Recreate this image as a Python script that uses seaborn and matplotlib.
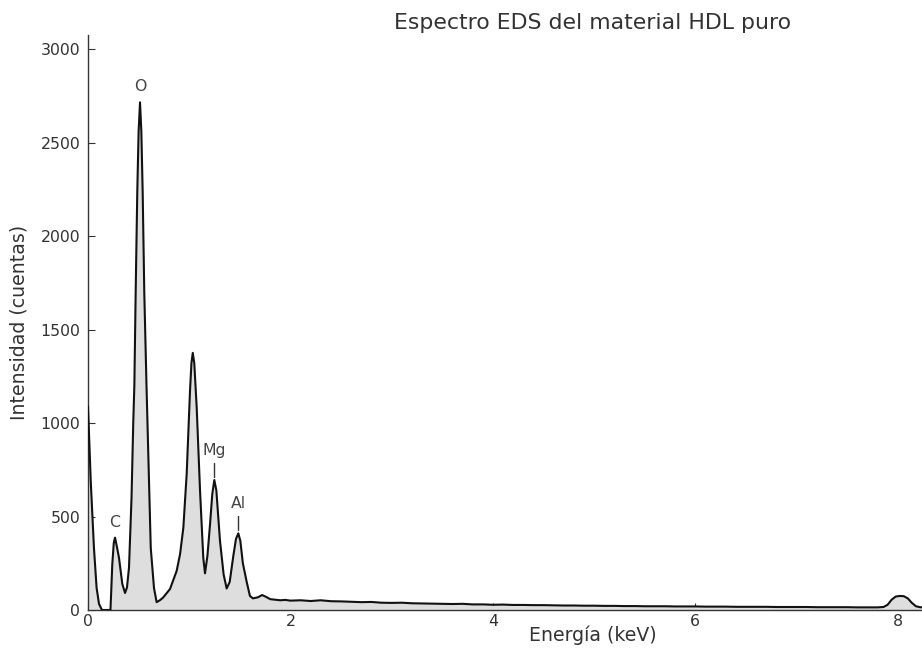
import numpy as np
import pandas as pd
import matplotlib
matplotlib.use("Agg")
import matplotlib.pyplot as plt
import seaborn as sns

# ---- data ----
energy_kev = [
    0.000, 0.027, 0.059, 0.085, 0.109, 0.138, 0.180, 0.222,
    0.240, 0.255, 0.267, 0.285, 0.306, 0.339, 0.366, 0.385, 0.405, 0.430, 0.447,
    0.458, 0.471, 0.487, 0.500, 0.514, 0.527, 0.540, 0.556, 0.578, 0.603, 0.620,
    0.652, 0.678, 0.710, 0.741, 0.810, 0.876, 0.910, 0.942, 0.975, 1.008, 1.022,
    1.035, 1.050, 1.074, 1.107, 1.139, 1.156, 1.180, 1.206, 1.228, 1.248, 1.268,
    1.304, 1.340, 1.370, 1.400, 1.436, 1.462, 1.485, 1.505, 1.530, 1.568, 1.600,
    1.630, 1.680, 1.720, 1.760, 1.800, 1.850, 1.900, 1.950, 2.000, 2.100, 2.200,
    2.300, 2.400, 2.500, 2.600, 2.700, 2.800, 2.900, 3.000, 3.100, 3.200, 3.300,
    3.400, 3.500, 3.600, 3.700, 3.800, 3.900, 4.000, 4.100, 4.200, 4.300, 4.400,
    4.500, 4.600, 4.700, 4.800, 4.900, 5.000, 5.100, 5.200, 5.300, 5.400, 5.500,
    5.600, 5.700, 5.800, 5.900, 6.000, 6.100, 6.200, 6.300, 6.400, 6.500, 6.600,
    6.700, 6.800, 6.900, 7.000, 7.100, 7.200, 7.300, 7.400, 7.500, 7.600, 7.700,
    7.800, 7.860, 7.900, 7.940, 7.980, 8.020, 8.060, 8.100, 8.140, 8.180, 8.220,
    8.260,
]
intensity = [
    1090, 690, 330, 118, 32, 0, 0, 0,
    245, 360, 387, 340, 280, 139, 91, 120, 226, 600, 1000,
    1200, 1700, 2240, 2560, 2715, 2560, 2240, 1700, 1200, 690, 332,
    118, 42, 52, 66, 112, 209, 300, 440, 728, 1173, 1320,
    1375, 1320, 1082, 637, 279, 196, 290, 460, 620, 695, 640,
    370, 190, 115, 150, 290, 380, 410, 370, 250, 150, 75,
    62, 68, 80, 70, 58, 55, 52, 54, 50, 52, 48,
    52, 47, 46, 44, 42, 43, 39, 38, 39, 36, 35,
    34, 33, 32, 33, 30, 30, 28, 29, 27, 27, 26,
    26, 25, 24, 24, 23, 23, 22, 22, 21, 21, 20,
    20, 20, 19, 19, 19, 18, 18, 18, 17, 17, 17,
    17, 16, 16, 16, 16, 15, 15, 15, 15, 14, 14,
    14, 16, 28, 55, 72, 75, 74, 62, 38, 20, 15,
    14,
]
peak_labels = ["C", "O", "Mg", "Al"]
peak_energy = [0.267, 0.514, 1.248, 1.485]
peak_marker_line = [False, False, True, True]

x_ticks = [0, 2, 4, 6, 8]
y_ticks = [0, 500, 1000, 1500, 2000, 2500, 3000]

title = "Espectro EDS del material HDL puro"
x_label = "Energía (keV)"
y_label = "Intensidad (cuentas)"

df = pd.DataFrame({"energy": energy_kev, "counts": intensity})

# ---- figure ----
sns.set_style("ticks")
plt.rcParams["font.family"] = ["DejaVu Sans"]

fig = plt.figure(figsize=(9.22, 6.57), dpi=100)
ax = fig.add_axes([88 / 922, 47 / 657, 1 - 88 / 922, (610 - 35) / 657])

ax.fill_between(df["energy"], 0, df["counts"], color="#dedede", linewidth=0, zorder=1)
sns.lineplot(data=df, x="energy", y="counts", ax=ax, color="#111111",
             linewidth=1.5, zorder=3, sort=False)

ax.set_xlim(0, 8.24)
ax.set_ylim(0, 3075)
ax.set_xticks(x_ticks)
ax.set_yticks(y_ticks)
ax.set_xticklabels([str(t) for t in x_ticks])
ax.set_yticklabels([str(t) for t in y_ticks])

ax.tick_params(direction="in", length=5, width=0.8, colors="#333333",
               labelsize=11.3, labelcolor="#333333")
ax.tick_params(axis="y", pad=5.5)
ax.tick_params(axis="x", pad=3)

for side in ["top", "right"]:
    ax.spines[side].set_visible(False)
for side in ["left", "bottom"]:
    ax.spines[side].set_color("#333333")
    ax.spines[side].set_linewidth(1.0)

ax.set_xlabel(x_label, fontsize=13.6, color="#333333")
ax.xaxis.set_label_coords(505 / 834, -0.027)
ax.set_ylabel(y_label, fontsize=13.6, color="#333333")
ax.yaxis.set_label_coords(-0.071, 0.5)
ax.set_title(title, fontsize=15.8, color="#333333", x=505 / 834, pad=4)

# peak annotations
px_per_pt = 100 / 72
for lab, e, has_line in zip(peak_labels, peak_energy, peak_marker_line):
    pk = float(np.interp(e, energy_kev, intensity))
    if has_line:
        ax.plot([e, e],
                [pk + 3 / 0.187, pk + 17 / 0.187],
                color="#333333", linewidth=1.0, zorder=4)
        off = 30
    else:
        off = 15.5
    ax.annotate(lab, xy=(e, pk), xytext=(0, off / px_per_pt),
                textcoords="offset points", ha="center", va="center",
                fontsize=11.3, color="#444444")

fig.savefig("out.png", dpi=100)
